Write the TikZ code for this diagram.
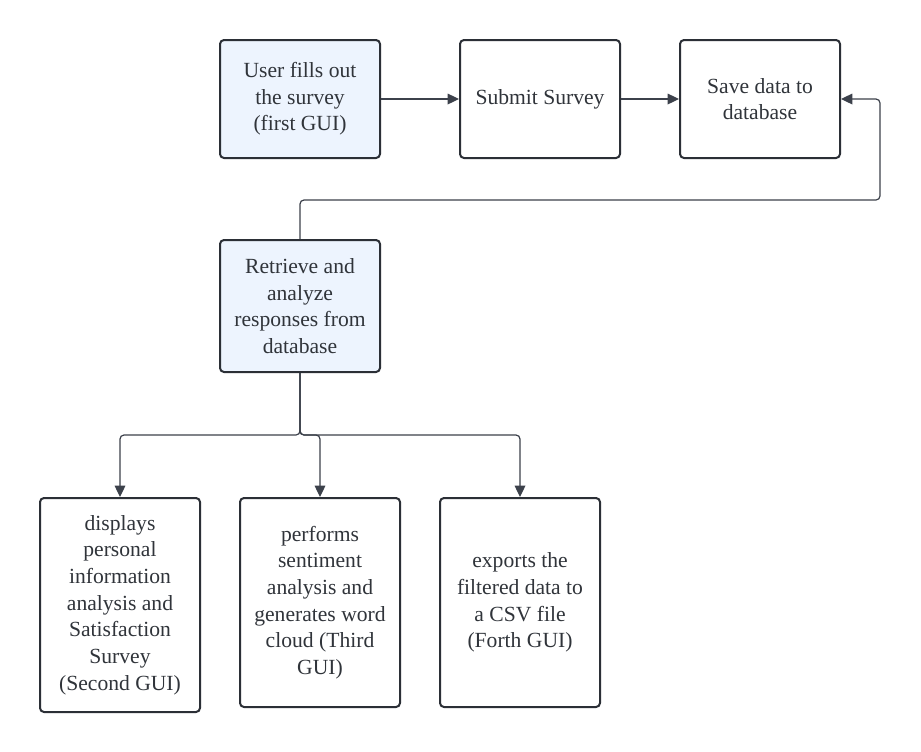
\documentclass[tikz,border=0pt]{standalone}
\usepackage{fontspec}
\setmainfont{Liberation Serif}
\usetikzlibrary{arrows.meta}
\definecolor{bordc}{HTML}{2B2F36}
\definecolor{linec}{HTML}{3C414B}
\definecolor{fillc}{HTML}{EDF4FE}
\definecolor{txtc}{HTML}{30343A}
\tikzset{
  box/.style={draw=bordc, line width=1.5pt, rounded corners=3pt, minimum width=120pt,
    align=center, text=txtc, font=\fontsize{16.2}{20}\selectfont, inner sep=2pt},
  bluebox/.style={box, fill=fillc},
  arr/.style={draw=linec, line width=0.9pt, -{Triangle[length=8.5pt,width=8pt]}, rounded corners=3pt}
}
\begin{document}
\begin{tikzpicture}[x=0.75pt,y=-0.75pt]
\useasboundingbox[fill=white] (0,0) rectangle (921,751);
\node[bluebox, minimum height=88.5pt] (u) at (300,99) {User fills out\\the survey\\(first GUI)};
\node[box, minimum height=88.5pt] (s) at (540,99) {Submit Survey};
\node[box, minimum height=88.5pt] (d) at (760,99) {Save data to\\database};
\node[bluebox, minimum height=99pt] (r) at (300,306) {Retrieve and\\analyze\\responses from\\database};
\node[box, minimum height=160.5pt] (a) at (120,605) {displays\\personal\\information\\analysis and\\Satisfaction\\Survey\\(Second GUI)};
\node[box, minimum height=156.75pt] (b) at (320,602.5) {performs\\sentiment\\analysis and\\generates word\\cloud (Third\\GUI)};
\node[box, minimum height=156.75pt] (c) at (520,602.5) {exports the\\filtered data to\\a CSV file\\(Forth GUI)};
\coordinate (k) at (880,200);
\coordinate (j) at (300,435);
\draw[arr] (u) -- (s);
\draw[arr] (s) -- (d);
\draw[arr] (r.north) |- (k) |- (d.east);
\draw[arr] (r.south) -- (j) -| (a.north);
\draw[arr] (r.south) -- (j) -| (b.north);
\draw[arr] (r.south) -- (j) -| (c.north);
\end{tikzpicture}
\end{document}
